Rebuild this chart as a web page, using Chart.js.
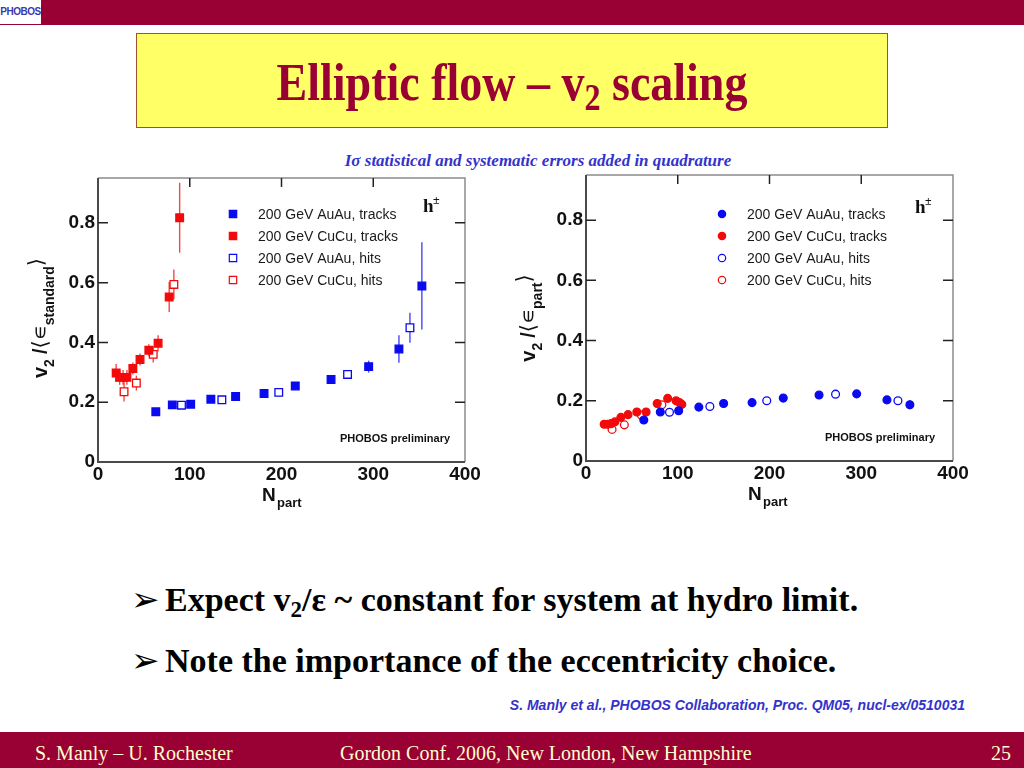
<!DOCTYPE html>
<html lang="en">
<head>
<meta charset="UTF-8">
<title>Elliptic flow – v2 scaling</title>
<script src="https://cdn.jsdelivr.net/npm/chart.js"></script>
<style>
  body { margin: 0; background: #fff; }
  #slide { position: relative; width: 1024px; height: 768px; overflow: hidden; background: #fff; font-family: "Liberation Serif", "Times New Roman", serif; }
  .bar { position: absolute; left: 0; width: 1024px; background: #990033; }
  .logo { position: absolute; left: 0; top: 0; width: 41px; height: 24px; background: #fff; font: bold 10px "Liberation Sans", sans-serif; color: #3a3ab0; line-height: 24px; text-align: center; letter-spacing: -0.5px; }
  .titlebox { position: absolute; left: 136px; top: 33px; width: 750px; height: 93px; background: #ffff66; border: 1px solid #a0522d; }
  .title { position: absolute; left: 0; width: 750px; top: 26px; text-align: center; font: bold 46px/1 "Liberation Serif", serif; color: #990033; transform: scaleY(1.16); }
  .title sub { font-size: 32px; vertical-align: -8px; line-height: 0; }
  .note { position: absolute; left: 0; width: 1076px; top: 152px; text-align: center; font: italic bold 17px/1 "Liberation Serif", serif; color: #3333cc; }
  canvas { position: absolute; }
  .bullet { position: absolute; left: 131px; font: bold 34px/1 "Liberation Serif", serif; color: #000; white-space: nowrap; }
  .bullet .arr { display: inline-block; width: 34px; font: 34px/1 "DejaVu Sans", sans-serif; vertical-align: 0px; }
  .bullet sub { font-size: 23px; vertical-align: -6px; line-height: 0; }
  .ref { position: absolute; right: 59px; top: 698px; font: italic bold 14px/1 "Liberation Sans", sans-serif; color: #3333cc; }
  .foot { position: absolute; top: 743px; font: 20px/1 "Liberation Serif", serif; color: #ffffcc; white-space: nowrap; }
</style>
</head>
<body>
<div id="slide">
  <div class="bar" style="top:0;height:25px"></div>
  <div class="logo">PHOBOS</div>
  <div class="titlebox"><div class="title">Elliptic flow – v<sub>2</sub> scaling</div></div>
  <div class="note">I&#963; statistical and systematic errors added in quadrature</div>

  <canvas id="stdChart" width="470" height="358" style="left:20px;top:162px"></canvas>
  <canvas id="partChart" width="470" height="360" style="left:508px;top:159px"></canvas>

  <div class="bullet" style="top:582px"><span class="arr">&#10146;</span>Expect v<sub>2</sub>/&#949; ~ constant for system at hydro limit.</div>
  <div class="bullet" style="top:643px"><span class="arr">&#10146;</span>Note the importance of the eccentricity choice.</div>
  <div class="ref">S. Manly et al., PHOBOS Collaboration, Proc. QM05, nucl-ex/0510031</div>

  <div class="bar" style="top:732px;height:36px"></div>
  <div class="foot" style="left:35px">S. Manly – U. Rochester</div>
  <div class="foot" style="left:340px">Gordon Conf. 2006, New London, New Hampshire</div>
  <div class="foot" style="left:991px">25</div>
</div>

<script>
// axes
const xTicks = [0, 100, 200, 300, 400];
const yTicks = [0, 0.2, 0.4, 0.6, 0.8];
const legendLabels = ['200 GeV AuAu, tracks', '200 GeV CuCu, tracks', '200 GeV AuAu, hits', '200 GeV CuCu, hits'];

// Npart of each centrality bin (same bins in both panels)
const auauTracksNpart = [63, 81, 101, 123, 150, 181, 215, 254, 295, 328, 353];
const cucuTracksNpart = [19.8, 23.6, 27.3, 31.5, 38, 45.8, 55.4, 65.5, 77.6, 89, 98.2, 102, 104.4];
const auauHitsNpart = [91, 135, 197, 272, 340];
const cucuHitsNpart = [28.4, 41.8, 60.2, 82.7];

// left panel: v2 / <eps standard>  (null = off scale)
const stdAuAuTracks = [0.168, 0.191, 0.193, 0.210, 0.219, 0.229, 0.254, 0.276, 0.319, 0.378, 0.589];
const stdAuAuTracksErr = [0.005, 0.005, 0.005, 0.005, 0.005, 0.006, 0.006, 0.008, 0.02, 0.046, 0.146];
const stdCuCuTracks = [0.298, 0.283, 0.283, 0.283, 0.313, 0.343, 0.374, 0.397, 0.552, 0.817, null, null, null];
const stdCuCuTracksErr = [0.03, 0.025, 0.025, 0.025, 0.02, 0.02, 0.02, 0.027, 0.05, 0.117, 0, 0, 0];
const stdAuAuHits = [0.19, 0.208, 0.233, 0.293, 0.449];
const stdAuAuHitsErr = [0.005, 0.006, 0.008, 0.012, 0.05];
const stdCuCuHits = [0.235, 0.264, 0.360, 0.594];
const stdCuCuHitsErr = [0.033, 0.025, 0.027, 0.05];

// right panel: v2 / <eps part>
const partAuAuTracks = [0.136, 0.163, 0.167, 0.179, 0.191, 0.194, 0.209, 0.219, 0.223, 0.203, 0.187];
const partAuAuTracksErr = [0.004, 0.004, 0.004, 0.004, 0.004, 0.004, 0.004, 0.005, 0.005, 0.008, 0.015];
const partCuCuTracks = [0.122, 0.122, 0.124, 0.130, 0.145, 0.154, 0.163, 0.163, 0.191, 0.208, 0.200, 0.194, 0.188];
const partCuCuTracksErr = [0.006, 0.006, 0.006, 0.006, 0.006, 0.006, 0.006, 0.006, 0.008, 0.008, 0.008, 0.008, 0.008];
const partAuAuHits = [0.162, 0.181, 0.200, 0.222, 0.200];
const partAuAuHitsErr = [0.004, 0.004, 0.004, 0.005, 0.006];
const partCuCuHits = [0.105, 0.120, 0.153, 0.187];
const partCuCuHitsErr = [0.006, 0.006, 0.006, 0.008];

const BLUE = '#0a0af0';
const RED = '#f20a0a';
const SANS = '"Liberation Sans", Arial, sans-serif';

function pts(xs, ys) {
  return xs.map((x, i) => ({ x: x, y: ys[i] }));
}

function series(label, xs, ys, errs, color, style, open) {
  const round = style === 'circle';
  return {
    label: label,
    data: pts(xs, ys),
    errors: errs,
    pointStyle: style,
    pointRadius: round ? 3.9 : 5.4,
    borderWidth: 1.3,
    borderColor: color,
    backgroundColor: open ? '#ffffff' : color,
    showLine: false
  };
}

// vertical error bars, drawn under the markers
const errorBars = {
  id: 'errorBars',
  beforeDatasetsDraw(chart) {
    const { ctx, chartArea: a, scales: { y } } = chart;
    ctx.save();
    ctx.beginPath();
    ctx.rect(a.left, a.top, a.right - a.left, a.bottom - a.top);
    ctx.clip();
    chart.data.datasets.forEach((ds, i) => {
      const meta = chart.getDatasetMeta(i);
      ctx.strokeStyle = ds.borderColor;
      ctx.globalAlpha = 0.75;
      ctx.lineWidth = 1.4;
      ds.data.forEach((p, j) => {
        const e = ds.errors[j];
        if (p.y == null || !e) return;
        const px = meta.data[j].x;
        ctx.beginPath();
        ctx.moveTo(px, y.getPixelForValue(p.y - e));
        ctx.lineTo(px, y.getPixelForValue(p.y + e));
        ctx.stroke();
      });
    });
    ctx.restore();
  }
};

// frame with inward ticks
const frame = {
  id: 'frame',
  afterDraw(chart) {
    const { ctx, chartArea: a, scales: { x, y } } = chart;
    ctx.save();
    ctx.strokeStyle = '#8c8c8c';
    ctx.lineWidth = 1.5;
    ctx.beginPath();
    ctx.moveTo(a.left, a.top); ctx.lineTo(a.right, a.top); ctx.lineTo(a.right, a.bottom);
    ctx.stroke();
    ctx.strokeStyle = '#4a4a4a';
    ctx.lineWidth = 2;
    ctx.beginPath();
    ctx.moveTo(a.left, a.top); ctx.lineTo(a.left, a.bottom); ctx.lineTo(a.right, a.bottom);
    ctx.stroke();
    ctx.lineWidth = 1.5;
    ctx.strokeStyle = '#222';
    yTicks.slice(1).forEach(v => {
      const py = y.getPixelForValue(v);
      ctx.beginPath();
      ctx.moveTo(a.left, py); ctx.lineTo(a.left + 10, py);
      ctx.moveTo(a.right - 10, py); ctx.lineTo(a.right, py);
      ctx.stroke();
    });
    xTicks.slice(1, -1).forEach(v => {
      const px = x.getPixelForValue(v);
      ctx.beginPath();
      ctx.moveTo(px, a.top); ctx.lineTo(px, a.top + 9);
      ctx.stroke();
    });
    ctx.restore();
  }
};

// run of text pieces with subscripts, along the current x direction
function richText(ctx, parts, x0, y0) {
  let w = 0;
  parts.forEach(p => { ctx.font = p.font; w += ctx.measureText(p.t).width + (p.gap || 0); });
  let cx = x0 - w / 2;
  parts.forEach(p => {
    ctx.font = p.font;
    ctx.fillText(p.t, cx, y0 + (p.dy || 0));
    cx += ctx.measureText(p.t).width + (p.gap || 0);
  });
}

// legend, labels, axis titles
const annotations = {
  id: 'annotations',
  afterDraw(chart, args, o) {
    const { ctx, chartArea: a } = chart;
    ctx.save();
    ctx.textBaseline = 'alphabetic';
    ctx.textAlign = 'left';
    // legend
    chart.data.datasets.forEach((ds, i) => {
      const ly = a.top + o.legendTop + i * 22;
      const lx = a.left + o.legendX;
      ctx.lineWidth = 1.2;
      ctx.strokeStyle = ds.borderColor;
      ctx.fillStyle = ds.backgroundColor;
      ctx.beginPath();
      if (ds.pointStyle === 'circle') ctx.arc(lx, ly, 3.7, 0, Math.PI * 2);
      else ctx.rect(lx - 3.7, ly - 3.7, 7.4, 7.4);
      ctx.fill();
      ctx.stroke();
      ctx.fillStyle = '#1a1a1a';
      ctx.font = '14px ' + SANS;
      ctx.fillText(ds.label, lx + 25, ly + 5);
    });
    ctx.fillStyle = '#111';
    ctx.font = 'bold 19px "Liberation Serif", serif';
    ctx.fillText('h', a.left + o.hX, a.top + o.hTop);
    ctx.font = 'bold 12px "Liberation Serif", serif';
    ctx.fillText('\u00b1', a.left + o.hX + 10, a.top + o.hTop - 8);
    ctx.font = 'bold 11px ' + SANS;
    ctx.fillText('PHOBOS preliminary', a.left + o.prelimX, a.bottom - 20);

    // x title
    ctx.font = 'bold 19px ' + SANS;
    ctx.fillText('N', a.left + o.nX, a.bottom + 39);
    ctx.font = 'bold 13px ' + SANS;
    ctx.fillText('part', a.left + o.nX + 15, a.bottom + 45);

    // y title, rotated
    ctx.translate(a.left - 51, a.top + o.yTitleMid);
    ctx.rotate(-Math.PI / 2);
    const big = 'bold 20px ' + SANS;
    const small = 'bold 14px ' + SANS;
    const sym = '21px "DejaVu Sans", sans-serif';
    richText(ctx, [
      { t: 'v', font: big },
      { t: '2', font: small, dy: 7, gap: 5 },
      { t: '/', font: big },
      { t: '\u27e8', font: sym },
      { t: '\u220a', font: sym },
      { t: o.eps, font: small, dy: 7 },
      { t: '\u27e9', font: sym, dy: -4 }
    ], 0, 0);
    ctx.restore();
  }
};

function makeChart(id, sets, o) {
  const tickFont = { family: SANS, size: 19, weight: 'bold' };
  return new Chart(document.getElementById(id), {
    type: 'scatter',
    data: { datasets: sets },
    options: {
      responsive: false,
      animation: false,
      layout: { padding: { top: 16, right: 25, bottom: 0, left: 0 } },
      plugins: {
        legend: { display: false },
        tooltip: { enabled: false },
        annotations: o
      },
      scales: {
        x: {
          type: 'linear', min: 0, max: 400,
          afterBuildTicks: s => { s.ticks = xTicks.map(v => ({ value: v })); },
          afterFit: s => { s.height = 58; },
          grid: { display: false, drawTicks: false },
          border: { display: false },
          ticks: { font: tickFont, color: '#111', padding: 1, maxRotation: 0 }
        },
        y: {
          type: 'linear', min: 0, max: 0.95,
          afterBuildTicks: s => { s.ticks = yTicks.map(v => ({ value: v })); },
          afterFit: s => { s.width = 78; },
          grid: { display: false, drawTicks: false },
          border: { display: false },
          ticks: { font: tickFont, color: '#111', padding: 3, callback: v => v === 0 ? '0' : v.toFixed(1) }
        }
      }
    },
    plugins: [errorBars, frame, annotations]
  });
}

makeChart('stdChart', [
  series(legendLabels[0], auauTracksNpart, stdAuAuTracks, stdAuAuTracksErr, BLUE, 'rect', false),
  series(legendLabels[1], cucuTracksNpart, stdCuCuTracks, stdCuCuTracksErr, RED, 'rect', false),
  series(legendLabels[2], auauHitsNpart, stdAuAuHits, stdAuAuHitsErr, BLUE, 'rect', true),
  series(legendLabels[3], cucuHitsNpart, stdCuCuHits, stdCuCuHitsErr, RED, 'rect', true)
], { legendX: 135, legendTop: 36, hX: 325, hTop: 34, prelimX: 242, nX: 164, yTitleMid: 140, eps: 'standard' });

makeChart('partChart', [
  series(legendLabels[0], auauTracksNpart, partAuAuTracks, partAuAuTracksErr, BLUE, 'circle', false),
  series(legendLabels[1], cucuTracksNpart, partCuCuTracks, partCuCuTracksErr, RED, 'circle', false),
  series(legendLabels[2], auauHitsNpart, partAuAuHits, partAuAuHitsErr, BLUE, 'circle', true),
  series(legendLabels[3], cucuHitsNpart, partCuCuHits, partCuCuHitsErr, RED, 'circle', true)
], { legendX: 136, legendTop: 39, hX: 329, hTop: 38, prelimX: 239, nX: 162, yTitleMid: 143, eps: 'part' });
</script>
</body>
</html>
